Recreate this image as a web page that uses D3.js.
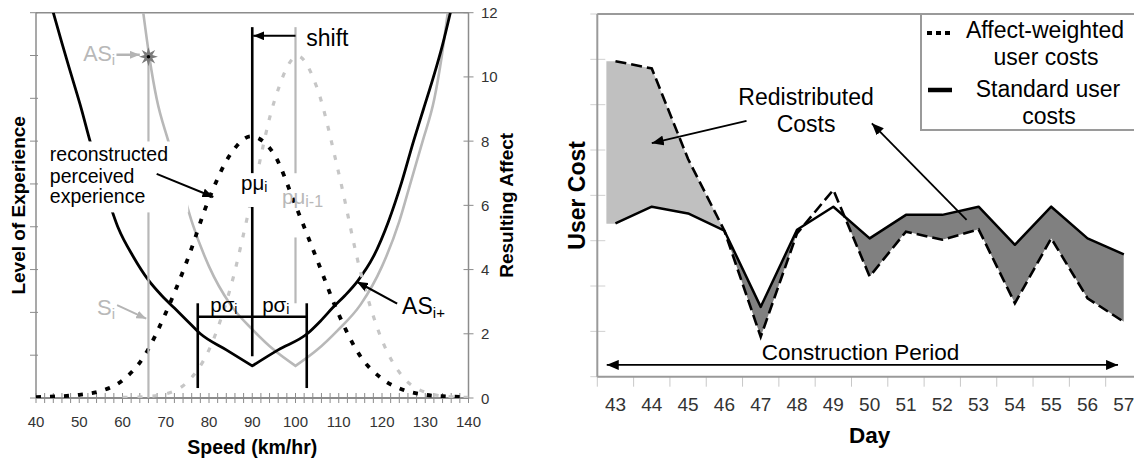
<!DOCTYPE html>
<html><head><meta charset="utf-8">
<script src="https://cdn.jsdelivr.net/npm/d3@7"></script>
<style>
body{margin:0;background:#fff}
svg{display:block}
text{font-family:"Liberation Sans",Arial,Helvetica,sans-serif}
</style>
</head><body>
<svg id="c" width="1134" height="459"></svg>
<script>
// ---------------- LEFT CHART DATA ----------------
const speedTicks = [40,50,60,70,80,90,100,110,120,130,140];
const affectTicks = [0,2,4,6,8,10,12];
const experienceTicks = [0,1,2,3,4,5,6,7,8,9];
// AS_{i+} (black solid) : [speed, affect]
const asPlus = [[44,12],[46,11.05],[48.3,10],[50.5,9],[52.5,8],[55.5,6.7],[59,5.3],[62.5,4.4],[66,3.67],[69,3.2],[72,2.8],[75,2.4],[78,2.0],[84,1.5],[90,1.0],[96,1.5],[102.7,2.0],[105.8,2.4],[108.8,2.84],[111.5,3.2],[114.4,3.65],[118,4.4],[121.5,5.5],[124.5,6.7],[127.3,8],[129.6,9],[131.9,10],[134,11],[135.8,12]];
// AS_i (grey solid)
const asPrev = [[64.8,12],[66.2,10.63],[67.9,9.32],[70.6,8.0],[73.3,6.75],[76,5.5],[80,4.1],[85,2.9],[90.3,2.1],[95,1.5],[100,1.0],[105,1.5],[109.7,2.1],[115,2.9],[120,4.1],[124,5.5],[126.7,6.75],[129.4,8.0],[132.1,9.32],[133.8,10.63],[135.2,12]];
// reconstructed perceived experience (black dotted)
const perceivedNow = [[40,0.03],[45,0.05],[50,0.1],[55,0.22],[60,0.55],[65,1.3],[70,2.65],[75,4.3],[80,6.2],[85,7.6],[89.7,8.15],[95,7.6],[100,6.0],[105,4.3],[110,2.6],[115,1.3],[120,0.6],[125,0.25],[130,0.1],[135,0.05],[140,0.03]];
// previous perceived experience (grey dotted)
const perceivedPrev = [[60,0.02],[65,0.04],[70,0.13],[75,0.5],[80,1.5],[85,3.45],[90,6.3],[95,9.2],[100.5,10.65],[105,9.65],[110,7.0],[115,3.95],[120,1.8],[125,0.63],[130,0.18],[135,0.05],[140,0.02]];
const muNow = 90, muPrev = 100, sigma = 12.6, sNow = 66;
const starPoint = [66, 10.63];

// ---------------- RIGHT CHART DATA ----------------
const days = [43,44,45,46,47,48,49,50,51,52,53,54,55,56,57];
const standardCost = [3.38,3.75,3.60,3.22,1.54,3.24,3.75,3.05,3.57,3.57,3.75,2.91,3.75,3.05,2.70];
const affectCost   = [6.96,6.80,4.80,3.22,0.88,3.16,4.12,2.21,3.20,3.02,3.25,1.62,3.05,1.73,1.21];
const costTicks = [0,1,2,3,4,5,6,7,8];

// ---------------- SETUP ----------------
const svg = d3.select('#c');
const defs = svg.append('defs');
function marker(id, color, w, h){
  defs.append('marker').attr('id', id).attr('viewBox', `0 0 ${w} ${h}`)
    .attr('refX', w).attr('refY', h/2).attr('markerWidth', w).attr('markerHeight', h)
    .attr('markerUnits','userSpaceOnUse').attr('orient','auto-start-reverse')
    .append('path').attr('d', `M0,0L${w},${h/2}L0,${h}Z`).attr('fill', color);
}
marker('arB', '#000', 11, 9);
marker('arG', '#b4b4b4', 10, 8);
marker('arS', '#000', 12, 10);

function text(g, x, y, str, o={}){
  const t = g.append('text').attr('x', x).attr('y', y)
    .attr('font-size', o.size||16).attr('fill', o.color||'#000')
    .attr('text-anchor', o.anchor||'start')
    .attr('font-weight', o.bold?'bold':'normal');
  t.append('tspan').text(str);
  if (o.sub) t.append('tspan').text(o.sub).attr('font-size', o.subSize||Math.round((o.size||16)*0.65)).attr('dy', o.subDy||4);
  return t;
}

// ================= LEFT CHART =================
const L = {left:36, right:468.5, top:12.7, bottom:398};
const xS = d3.scaleLinear().domain([40,140]).range([L.left, L.right]);
const yA = d3.scaleLinear().domain([0,12]).range([L.bottom, L.top]);
const yE = d3.scaleLinear().domain([0,9]).range([L.bottom, L.top]);
const gL = svg.append('g');
defs.append('clipPath').attr('id','clipL').append('rect')
  .attr('x', L.left).attr('y', L.top).attr('width', L.right-L.left).attr('height', L.bottom-L.top);

const axisCol = '#8c8c8c';
gL.append('line').attr('x1',L.left).attr('x2',L.right).attr('y1',L.top).attr('y2',L.top).attr('stroke',axisCol).attr('stroke-width',1.5);
gL.append('line').attr('x1',L.left).attr('x2',L.left).attr('y1',L.top).attr('y2',L.bottom).attr('stroke',axisCol).attr('stroke-width',1.5);
gL.append('line').attr('x1',L.right).attr('x2',L.right).attr('y1',L.top).attr('y2',L.bottom).attr('stroke',axisCol).attr('stroke-width',1.5);
gL.append('line').attr('x1',L.left).attr('x2',L.right).attr('y1',L.bottom).attr('y2',L.bottom).attr('stroke',axisCol).attr('stroke-width',2);
gL.selectAll('.xt').data(d3.range(40,141,2)).join('line')
  .attr('x1', d=>xS(d)).attr('x2', d=>xS(d)).attr('y1', L.bottom-5).attr('y2', L.bottom+5)
  .attr('stroke', axisCol).attr('stroke-width',1);
gL.selectAll('.xl').data(speedTicks).join('text')
  .attr('x', d=>xS(d)).attr('y', L.bottom+28.5).attr('text-anchor','middle')
  .attr('font-size',15).attr('fill','#333').text(d=>d);
gL.selectAll('.yl').data(experienceTicks).join('line')
  .attr('x1', L.left-6).attr('x2', L.left+2).attr('y1', d=>yE(d)).attr('y2', d=>yE(d))
  .attr('stroke', axisCol).attr('stroke-width',1);
gL.selectAll('.yr').data(affectTicks).join('line')
  .attr('x1', L.right-5).attr('x2', L.right+5).attr('y1', d=>yA(d)).attr('y2', d=>yA(d))
  .attr('stroke', axisCol).attr('stroke-width',1);
gL.selectAll('.yrl').data(affectTicks).join('text')
  .attr('x', L.right+12.5).attr('y', d=>yA(d)+5.5).attr('font-size',15).attr('fill','#333').text(d=>d);
gL.append('text').attr('transform',`translate(25,${(L.top+L.bottom)/2}) rotate(-90)`)
  .attr('text-anchor','middle').attr('font-size',19).attr('font-weight','bold').text('Level of Experience');
gL.append('text').attr('transform',`translate(513,${(L.top+L.bottom)/2}) rotate(-90)`)
  .attr('text-anchor','middle').attr('font-size',19).attr('font-weight','bold').text('Resulting Affect');
gL.append('text').attr('x',(L.left+L.right)/2).attr('y',454).attr('text-anchor','middle')
  .attr('font-size',19.5).attr('font-weight','bold').text('Speed (km/hr)');

const plot = gL.append('g').attr('clip-path','url(#clipL)');
const smooth = d3.line().x(d=>xS(d[0])).y(d=>yA(d[1])).curve(d3.curveMonotoneX);
function vPath(data){
  const i = d3.minIndex(data, d=>d[1]);
  return smooth(data.slice(0,i+1)) + smooth(data.slice(i)).replace(/^M/,'L');
}
plot.append('path').attr('d', vPath(asPrev)).attr('fill','none').attr('stroke','#b8b8b8').attr('stroke-width',2.6);
plot.append('path').attr('d', vPath(asPlus)).attr('fill','none').attr('stroke','#000').attr('stroke-width',2.8).attr('stroke-linejoin','round');
plot.append('path').attr('d', smooth(perceivedPrev)).attr('fill','none').attr('stroke','#c6c6c6').attr('stroke-width',3.2).attr('stroke-dasharray','5,10');
plot.append('path').attr('d', smooth(perceivedNow)).attr('fill','none').attr('stroke','#000').attr('stroke-width',3.8).attr('stroke-dasharray','5,9');

const vlines = [
  {s:muNow, a:11.55, b:7.0, c:'#000', w:2.6},
  {s:muNow, a:5.95, b:1.3, c:'#000', w:2.6},
  {s:muPrev, a:11.55, b:7.0, c:'#b8b8b8', w:2.2},
  {s:muPrev, a:5.0, b:2.95, c:'#b8b8b8', w:2.2},
  {s:sNow, a:starPoint[1], b:0, c:'#b8b8b8', w:2.2}
];
gL.selectAll('.vl').data(vlines).join('line')
  .attr('x1', d=>xS(d.s)).attr('x2', d=>xS(d.s)).attr('y1', d=>yA(d.a)).attr('y2', d=>yA(d.b))
  .attr('stroke', d=>d.c).attr('stroke-width', d=>d.w);

const barY = 2.53, barTop = 2.95, barBot = 0.31;
gL.append('line').attr('x1',xS(muNow-sigma)).attr('x2',xS(muNow+sigma)).attr('y1',yA(barY)).attr('y2',yA(barY)).attr('stroke','#000').attr('stroke-width',2.6);
[muNow-sigma, muNow+sigma].forEach(s=>{
  gL.append('line').attr('x1',xS(s)).attr('x2',xS(s)).attr('y1',yA(barTop)).attr('y2',yA(barBot)).attr('stroke','#000').attr('stroke-width',2.6);
});

gL.append('rect').attr('x', xS(42.1)).attr('y', yA(7.99)).attr('width', xS(75.2)-xS(42.1)).attr('height', yA(5.78)-yA(7.99)).attr('fill','#fff');
gL.append('rect').attr('x', xS(87.2)).attr('y', yA(6.99)).attr('width', xS(94.6)-xS(87.2)).attr('height', yA(5.95)-yA(6.99)).attr('fill','#fff');

text(gL, xS(43.2), yA(7.38), 'reconstructed', {size:19.5});
text(gL, xS(43.2), yA(6.69), 'perceived', {size:19.5});
text(gL, xS(43.2), yA(6.07), 'experience', {size:19.5});
gL.append('line').attr('x1',xS(67.9)).attr('y1',yA(6.98)).attr('x2',xS(81.0)).attr('y2',yA(6.26))
  .attr('stroke','#000').attr('stroke-width',2).attr('marker-end','url(#arB)');

gL.append('line').attr('x1',xS(muPrev)).attr('y1',yA(11.28)).attr('x2',xS(muNow)+1).attr('y2',yA(11.28))
  .attr('stroke','#000').attr('stroke-width',2).attr('marker-end','url(#arB)');
text(gL, xS(102.5), yA(10.97), 'shift', {size:23});

text(gL, xS(87.4), yA(6.47), 'pμ', {size:20.5, sub:'i', subSize:14, subDy:2});
text(gL, xS(96.9), yA(6.05), 'pμ', {size:20.5, color:'#b8b8b8', sub:'i-1', subSize:16, subDy:3});
text(gL, xS(80.3), yA(2.68), 'pσ', {size:20.5, sub:'i', subSize:14, subDy:2});
text(gL, xS(92.3), yA(2.68), 'pσ', {size:20.5, sub:'i', subSize:14, subDy:2});

text(gL, xS(124.65), yA(2.61), 'AS', {size:23, sub:'i+', subSize:15, subDy:4});
gL.append('line').attr('x1',xS(123.5)).attr('y1',yA(2.94)).attr('x2',xS(114.2)).attr('y2',yA(3.62))
  .attr('stroke','#000').attr('stroke-width',2.2).attr('marker-end','url(#arB)');

text(gL, xS(50.9), yA(10.5), 'AS', {size:21.5, color:'#b8b8b8', sub:'i', subSize:15, subDy:4});
gL.append('line').attr('x1',xS(58.6)).attr('y1',yA(10.69)).attr('x2',xS(64.0)).attr('y2',yA(10.69))
  .attr('stroke','#b4b4b4').attr('stroke-width',2.5).attr('marker-end','url(#arG)');
const starPts = d3.range(16).map(k=>[k*Math.PI/8, k%2 ? 4.2 : 9.5]);
gL.append('path').attr('d', d3.lineRadial().curve(d3.curveLinearClosed)(starPts))
  .attr('transform',`translate(${xS(starPoint[0])},${yA(starPoint[1])})`).attr('fill','#7a7a7a');
gL.append('circle').attr('cx',xS(starPoint[0])).attr('cy',yA(starPoint[1])).attr('r',1.8).attr('fill','#000');

text(gL, xS(54.1), yA(2.58), 'S', {size:22, color:'#b8b8b8', sub:'i', subSize:15, subDy:4});
gL.append('line').attr('x1',xS(58.75)).attr('y1',yA(2.89)).attr('x2',xS(65.5)).attr('y2',yA(2.47))
  .attr('stroke','#b4b4b4').attr('stroke-width',2).attr('marker-end','url(#arG)');

// ================= RIGHT CHART =================
const R = {left:597.3, right:1142, top:14, bottom:376.7};
const xD = d3.scaleLinear().domain([42.5,57.5]).range([R.left, R.right]);
const yC = d3.scaleLinear().domain([0,8]).range([R.bottom, R.top]);
const gR = svg.append('g');
const rows = days.map((d,i)=>({day:d, std:standardCost[i], aff:affectCost[i]}));
const rAxis = '#9a9a9a';

gR.selectAll('.cy').data(costTicks).join('line')
  .attr('x1', R.left-7).attr('x2', R.left+8).attr('y1', d=>yC(d)).attr('y2', d=>yC(d))
  .attr('stroke','#d0d0d0').attr('stroke-width',1);
gR.selectAll('.cx').data(days.map(d=>d-0.5)).join('line')
  .attr('x1', d=>xD(d)).attr('x2', d=>xD(d)).attr('y1', R.bottom).attr('y2', R.bottom+10)
  .attr('stroke','#c8c8c8').attr('stroke-width',1);
gR.selectAll('.cxl').data(days).join('text')
  .attr('x', d=>xD(d)).attr('y', 410.7).attr('text-anchor','middle')
  .attr('font-size',19).attr('fill','#333').text(d=>d);

const lead = 0.25;
const fillRows = [{day:days[0]-lead, std:standardCost[0], aff:affectCost[0]}, ...rows];
const area = d3.area().x(d=>xD(d.day)).y0(d=>yC(d.std)).y1(d=>yC(d.aff));
const stdLine = d3.line().x(d=>xD(d.day)).y(d=>yC(d.std));
const affLine = d3.line().x(d=>xD(d.day)).y(d=>yC(d.aff));
defs.append('clipPath').attr('id','belowStd').append('path')
  .attr('d', stdLine(fillRows) + `L${xD(days[days.length-1])},${R.bottom}L${xD(fillRows[0].day)},${R.bottom}Z`);
gR.append('path').attr('d', area(fillRows)).attr('fill','#808080').attr('clip-path','url(#belowStd)');
const lightRows = fillRows.filter(d=>d.day<=46);
gR.append('path').attr('d', area(lightRows)).attr('fill','#c0c0c0');

gR.append('path').attr('d', stdLine(rows)).attr('fill','none').attr('stroke','#000').attr('stroke-width',2.5).attr('stroke-linejoin','round');
gR.append('path').attr('d', affLine(rows)).attr('fill','none').attr('stroke','#000').attr('stroke-width',2.6).attr('stroke-dasharray','11,5');

gR.append('line').attr('x1',R.left).attr('x2',R.right).attr('y1',R.top).attr('y2',R.top).attr('stroke',rAxis).attr('stroke-width',2);
gR.append('line').attr('x1',R.left).attr('x2',R.left).attr('y1',R.top).attr('y2',R.bottom).attr('stroke',rAxis).attr('stroke-width',2);
gR.append('line').attr('x1',R.left).attr('x2',R.right).attr('y1',R.bottom).attr('y2',R.bottom).attr('stroke',rAxis).attr('stroke-width',2);

gR.append('text').attr('transform',`translate(585,${(R.top+R.bottom)/2}) rotate(-90)`)
  .attr('text-anchor','middle').attr('font-size',23).attr('font-weight','bold').text('User Cost');
gR.append('text').attr('x',(R.left+R.right)/2).attr('y',443).attr('text-anchor','middle')
  .attr('font-size',22.5).attr('font-weight','bold').text('Day');

gR.append('line').attr('x1',xD(42.76)).attr('x2',xD(56.84)).attr('y1',yC(0.26)).attr('y2',yC(0.26))
  .attr('stroke','#000').attr('stroke-width',1.8).attr('marker-start','url(#arS)').attr('marker-end','url(#arS)');
text(gR, xD(49.75), yC(0.37), 'Construction Period', {size:22.5, anchor:'middle'});

text(gR, xD(48.25), yC(6.0), 'Redistributed', {size:23, anchor:'middle'});
text(gR, xD(48.25), yC(5.39), 'Costs', {size:23, anchor:'middle'});
gR.append('line').attr('x1',xD(46.61)).attr('y1',yC(5.64)).attr('x2',xD(44.0)).attr('y2',yC(5.15))
  .attr('stroke','#000').attr('stroke-width',1.8).attr('marker-end','url(#arS)');
gR.append('line').attr('x1',xD(52.67)).attr('y1',yC(3.46)).attr('x2',xD(50.06)).attr('y2',yC(5.59))
  .attr('stroke','#000').attr('stroke-width',1.8).attr('marker-end','url(#arS)');

const lg = gR.append('g');
lg.append('rect').attr('x',921).attr('y',R.top).attr('width',240).attr('height',116)
  .attr('fill','#fff').attr('stroke',rAxis).attr('stroke-width',2);
lg.append('line').attr('x1',927).attr('x2',953).attr('y1',33).attr('y2',33).attr('stroke','#000').attr('stroke-width',4).attr('stroke-dasharray','5,4');
lg.append('line').attr('x1',928).attr('x2',952).attr('y1',90).attr('y2',90).attr('stroke','#000').attr('stroke-width',4.5);
text(lg, 1045, 38, 'Affect-weighted', {size:23, anchor:'middle'});
text(lg, 1046, 65, 'user costs', {size:23, anchor:'middle'});
text(lg, 1048, 96.7, 'Standard user', {size:23, anchor:'middle'});
text(lg, 1049, 124, 'costs', {size:23, anchor:'middle'});
</script>
</body></html>
